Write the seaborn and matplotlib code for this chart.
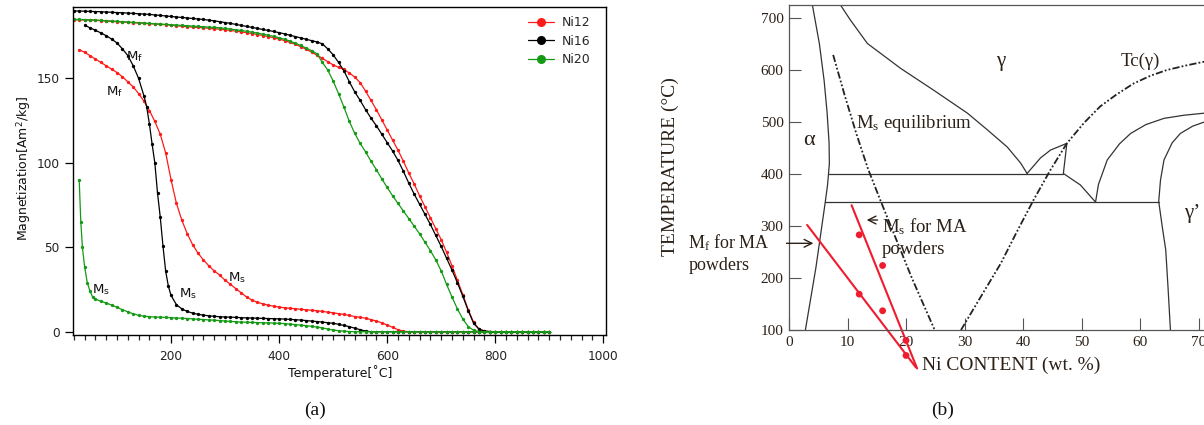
import numpy as np
import pandas as pd
import matplotlib
matplotlib.use("Agg")
import matplotlib.pyplot as plt
from matplotlib.ticker import MultipleLocator
from matplotlib.lines import Line2D
import seaborn as sns

sns.set_style("ticks")
plt.rcParams["font.family"] = ["DejaVu Sans"]
plt.rcParams["mathtext.fontset"] = "custom"
plt.rcParams["mathtext.rm"] = "Liberation Serif"
plt.rcParams["mathtext.it"] = "Liberation Serif:italic"
plt.rcParams["mathtext.sf"] = "DejaVu Sans"

# ---------------- (a) magnetization vs temperature ----------------
samples = ["Ni12", "Ni16", "Ni20"]
sample_colors = ["#ff1a1a", "#000000", "#149a14"]

# heating run, 20-900 °C
temp_heat = list(range(20, 901, 10))
ni12_heat = [184.8, 184.7, 184.6, 184.5, 184.4, 184.2, 184.0, 183.8, 183.6, 183.4,
             183.2, 183.0, 182.8, 182.6, 182.4, 182.2, 182.0, 181.8, 181.5, 181.2,
             180.9, 180.6, 180.4, 180.2, 180.0, 179.7, 179.4, 179.2, 178.8, 178.4,
             178.0, 177.6, 177.1, 176.6, 176.0, 175.4, 174.8, 174.1, 173.3, 172.4,
             171.4, 170.2, 168.8, 167.3, 165.6, 163.8, 161.9, 159.9, 158.0, 156.6,
             155.3, 153.2, 150.8, 147.5, 142.5, 137.0, 131.5, 125.5, 119.5, 113.5,
             107.5, 101.0, 94.0, 87.5, 80.5, 74.0, 67.5, 61.0, 54.5, 47.0,
             39.0, 30.5, 22.0, 13.0, 5.5, 1.5, 0.4, 0.1, 0.0, 0.0,
             0.0, 0.0, 0.0, 0.0, 0.0, 0.0, 0.0, 0.0, 0.0]
ni16_heat = [190.0, 189.9, 189.8, 189.7, 189.6, 189.5, 189.3, 189.2, 189.0, 188.9,
             188.7, 188.5, 188.3, 188.1, 187.9, 187.6, 187.3, 187.0, 186.7, 186.4,
             186.1, 185.8, 185.5, 185.2, 184.9, 184.5, 184.1, 183.6, 183.1, 182.6,
             182.0, 181.4, 180.8, 180.2, 179.6, 179.0, 178.4, 177.8, 177.1, 176.4,
             175.6, 174.8, 174.0, 173.2, 172.4, 171.6, 170.5, 167.5, 164.0, 159.5,
             154.5, 148.0, 142.0, 137.0, 131.5, 126.5, 122.0, 117.0, 112.0, 107.0,
             101.5, 95.0, 88.0, 81.5, 75.5, 69.5, 63.5, 57.0, 50.5, 43.5,
             36.5, 29.0, 21.0, 12.5, 5.0, 1.5, 0.4, 0.1, 0.0, 0.0,
             0.0, 0.0, 0.0, 0.0, 0.0, 0.0, 0.0, 0.0, 0.0]
ni20_heat = [185.0, 184.9, 184.8, 184.7, 184.6, 184.4, 184.2, 184.0, 183.8, 183.6,
             183.4, 183.2, 183.0, 182.8, 182.6, 182.4, 182.2, 182.0, 181.8, 181.6,
             181.4, 181.2, 181.0, 180.8, 180.6, 180.4, 180.2, 180.0, 179.6, 179.2,
             178.8, 178.4, 177.9, 177.4, 176.8, 176.2, 175.6, 174.9, 174.1, 173.2,
             172.1, 170.9, 169.5, 168.0, 166.5, 164.6, 159.5, 155.0, 148.5, 141.0,
             133.0, 124.5, 117.5, 111.5, 106.5, 101.0, 96.0, 90.5, 85.5, 80.5,
             76.0, 71.5, 67.0, 62.5, 58.0, 53.0, 48.0, 42.5, 36.0, 28.0,
             20.5, 13.5, 7.5, 3.0, 0.8, 0.1, 0.0, 0.0, 0.0, 0.0,
             0.0, 0.0, 0.0, 0.0, 0.0, 0.0, 0.0, 0.0, 0.0]

# cooling run back from 900 °C (listed in ascending temperature)
ni12_cool_t = list(range(30, 901, 10))
ni12_cool = [167.0, 165.5, 163.5, 161.5, 159.5, 157.5, 155.5, 153.5, 151.0, 148.0,
             145.0, 141.0, 136.5, 131.0, 124.5, 117.0, 106.0, 90.0, 76.0, 66.0,
             58.0, 51.5, 46.5, 42.5, 39.0, 36.0, 33.5, 30.5, 28.0, 25.5,
             23.0, 20.5, 18.7, 17.4, 16.5, 15.7, 15.1, 14.6, 14.2, 13.9,
             13.6, 13.3, 13.0, 12.7, 12.4, 12.0, 11.6, 11.2, 10.7, 10.2,
             9.6, 9.0, 8.5, 8.0, 7.2, 6.3, 5.3, 4.0, 2.6, 1.2,
             0.3, 0.0, 0.0, 0.0, 0.0, 0.0, 0.0, 0.0, 0.0, 0.0,
             0.0, 0.0, 0.0, 0.0, 0.0, 0.0, 0.0, 0.0, 0.0, 0.0,
             0.0, 0.0, 0.0, 0.0, 0.0, 0.0, 0.0, 0.0]
ni16_cool_t = list(range(40, 151, 10)) + list(range(155, 201, 5)) + list(range(210, 901, 10))
ni16_cool = [181.5, 180.0, 178.5, 177.0, 175.3, 173.3, 171.0, 167.5, 163.5, 157.5,
             150.0, 139.5,
             133.0, 123.0, 111.0, 100.0, 82.0, 68.0, 51.0, 36.0, 27.0, 21.5,
             16.0, 13.5, 12.0, 11.0, 10.3, 9.8, 9.4, 9.1, 8.9, 8.7,
             8.6, 8.5, 8.3, 8.2, 8.1, 8.0, 7.9, 7.8, 7.7, 7.6,
             7.5, 7.3, 7.1, 6.9, 6.6, 6.3, 6.0, 5.7, 5.3, 5.0,
             4.4, 3.7, 3.0, 2.1, 1.2, 0.4, 0.0, 0.0, 0.0, 0.0,
             0.0, 0.0, 0.0, 0.0, 0.0, 0.0, 0.0, 0.0, 0.0, 0.0,
             0.0, 0.0, 0.0, 0.0, 0.0, 0.0, 0.0, 0.0, 0.0, 0.0,
             0.0, 0.0, 0.0, 0.0, 0.0, 0.0, 0.0, 0.0, 0.0, 0.0]
ni20_cool_t = [30, 33, 36, 40, 45, 50, 55, 60] + list(range(70, 901, 10))
ni20_cool = [90.0, 65.0, 50.0, 38.5, 29.0, 24.0, 20.5, 19.3,
             18.0, 17.0, 15.8, 14.5, 13.0, 11.8, 10.6, 9.7, 9.2, 8.9,
             8.7, 8.6, 8.5, 8.3, 8.1, 8.0, 7.8, 7.6, 7.4, 7.2,
             7.0, 6.8, 6.6, 6.3, 6.1, 5.9, 5.7, 5.6, 5.5, 5.4,
             5.3, 5.2, 5.1, 5.0, 4.8, 4.5, 4.2, 3.9, 3.6, 3.2,
             2.8, 2.2, 1.6, 1.0, 0.6, 0.3, 0.1, 0.0, 0.0, 0.0,
             0.0, 0.0, 0.0, 0.0, 0.0, 0.0, 0.0, 0.0, 0.0, 0.0,
             0.0, 0.0, 0.0, 0.0, 0.0, 0.0, 0.0, 0.0, 0.0, 0.0,
             0.0, 0.0, 0.0, 0.0, 0.0, 0.0, 0.0, 0.0, 0.0, 0.0,
             0.0, 0.0, 0.0, 0.0]

# transformation labels on the curves: (subscript, temperature, magnetization)
curve_labels = [("f", 133, 163), ("f", 96, 142), ("s", 70, 25), ("s", 231, 22.5), ("s", 322, 32)]

# ---------------- (b) Fe-Ni phase diagram ----------------
alpha_ni = [4.0, 5.2, 6.0, 6.5, 6.85, 6.9, 6.6, 6.2, 4.6, 2.8]
alpha_t = [725, 650, 580, 520, 460, 420, 380, 346, 220, 100]
gamma_ni = [8.8, 10.5, 13.4, 19.1, 24.75, 30.5, 33.9, 37.3, 39.6, 40.7]
gamma_t = [725, 696, 651, 603, 561, 517, 485, 452, 421, 401]
iso400_ni = [6.85, 46.9]
iso400_t = [400, 400]
iso346_ni = [6.2, 63.2]
iso346_t = [346, 346]
arc_ni = [40.7, 43.0, 44.7, 47.5, 46.9, 49.8, 52.4]
arc_t = [401, 431, 446, 459, 401, 379, 346]
gg_ni = [52.4, 52.9, 54.4, 56.5, 58.4, 61.0, 64.1, 67.5, 71.0, 75.0]
gg_t = [346, 380, 427, 458, 478, 495, 507, 513, 517, 519]
gprime_ni = [65.2, 64.8, 64.4, 63.8, 63.2, 63.5, 64.1, 65.5, 66.9, 69.0, 71.0, 75.0]
gprime_t = [100, 180, 254, 299, 347, 388, 427, 460, 478, 492, 500, 507]
ms_eq_ni = [7.55, 9.5, 11.5, 13.5, 15.6, 18.3, 21.0, 24.9]
ms_eq_t = [629, 552, 478, 410, 350, 275, 200, 100]
tc_ni = [29.4, 33.0, 36.2, 39.0, 41.8, 44.7, 47.5, 50.4, 53.2, 56.0, 58.9, 61.8, 64.6, 68.0, 71.0, 75.0]
tc_t = [100, 168, 228, 290, 350, 408, 459, 498, 530, 553, 574, 589, 600, 609, 616, 622]

# MA powders: measured points and fitted lines
ms_pts_ni = [12, 16, 20]
ms_pts_t = [283, 224, 80]
mf_pts_ni = [12, 16, 20]
mf_pts_t = [169, 137, 51]
ms_fit_ni = [10.7, 21.9]
ms_fit_t = [340, 26]
mf_fit_ni = [3.1, 21.7]
mf_fit_t = [302, 28]

W, H = 1204, 425
fig = plt.figure(figsize=(W / 100, H / 100), dpi=100)
axa = fig.add_axes([72.7 / W, 1 - 335 / H, (606 - 72.7) / W, (335 - 7) / H])
axb = fig.add_axes([789 / W, 1 - 330 / H, 75 * 5.85 / W, 325 / H])

# ---- panel (a)
frames = []
for name, mh, tc, mc in [("Ni12", ni12_heat, ni12_cool_t, ni12_cool),
                         ("Ni16", ni16_heat, ni16_cool_t, ni16_cool),
                         ("Ni20", ni20_heat, ni20_cool_t, ni20_cool)]:
    heat = pd.DataFrame({"T": temp_heat, "M": mh})
    cool = pd.DataFrame({"T": tc, "M": mc}).iloc[::-1]
    part = pd.concat([heat, cool], ignore_index=True)
    part["sample"] = name
    frames.append(part)
mag = pd.concat(frames, ignore_index=True)

palette = dict(zip(samples, sample_colors))
sns.lineplot(data=mag, x="T", y="M", hue="sample", hue_order=samples, palette=palette,
             sort=False, estimator=None, marker="o", markersize=2.4, markeredgewidth=0,
             linewidth=0.9, legend=False, ax=axa)

axa.set_xlim(18, 1005)
axa.set_ylim(-1.95, 192.3)
axa.xaxis.set_major_locator(MultipleLocator(200))
axa.xaxis.set_minor_locator(MultipleLocator(20))
axa.yaxis.set_major_locator(MultipleLocator(50))
axa.tick_params(axis="both", which="major", direction="out", length=5.8, width=0.9,
                labelsize=8.7, color="black", labelcolor="#222222")
axa.tick_params(axis="x", which="major", pad=5)
axa.tick_params(axis="x", which="minor", direction="out", length=3.6, width=0.9)
axa.set_xlabel("")
axa.set_ylabel("")
axa.grid(False)
for sp in axa.spines.values():
    sp.set_visible(True)
    sp.set_color("black")
    sp.set_linewidth(1.0)

handles = [Line2D([0], [0], color=c, marker="o", markersize=6.5, markeredgewidth=0, linewidth=0.9)
           for c in sample_colors]
axa.legend(handles, samples, loc="upper left", bbox_to_anchor=(0.853, 0.972), frameon=False,
           fontsize=9, handlelength=2.1, handletextpad=0.6, labelspacing=0.45,
           borderpad=0, borderaxespad=0)

for sub, t, m in curve_labels:
    axa.text(t, m, "M$_\\mathsf{" + sub + "}$", ha="center", va="center", fontsize=9.5, color="#111111")

fig.text(24 / W, 1 - 168 / H, r"Magnetization[Am$^\mathsf{2}$/kg]", rotation=90,
         ha="center", va="center", fontsize=9, color="#111111")
fig.text(340 / W, 1 - 373 / H, "Temperature[˚C]", ha="center", va="center",
         fontsize=9, color="#111111")

# ---- panel (b)
line_c = "#333333"
text_c = "#2b2118"
serif = "Liberation Serif"
for xs, ys in [(alpha_ni, alpha_t), (gamma_ni, gamma_t), (iso400_ni, iso400_t),
               (iso346_ni, iso346_t), (arc_ni, arc_t), (gg_ni, gg_t), (gprime_ni, gprime_t)]:
    sns.lineplot(x=xs, y=ys, sort=False, estimator=None, color=line_c, linewidth=0.9, ax=axb)
for xs, ys in [(ms_eq_ni, ms_eq_t), (tc_ni, tc_t)]:
    sns.lineplot(x=xs, y=ys, sort=False, estimator=None, color="#222222", linewidth=1.3,
                 linestyle=(0, (4, 1.2, 1, 1.2, 1, 1.2)), ax=axb)

red = "#ee1c2e"
for xs, ys in [(ms_fit_ni, ms_fit_t), (mf_fit_ni, mf_fit_t)]:
    sns.lineplot(x=xs, y=ys, sort=False, estimator=None, color=red, linewidth=1.5,
                 clip_on=False, ax=axb)
sns.scatterplot(x=ms_pts_ni + mf_pts_ni, y=ms_pts_t + mf_pts_t, color=red, s=24,
                edgecolor="none", clip_on=False, zorder=5, ax=axb)

axb.set_xlim(0, 75)
axb.set_ylim(100, 725)
axb.set_xticks(range(0, 71, 10))
axb.set_yticks(range(100, 701, 100))
axb.tick_params(axis="both", direction="in", length=8.6, width=0.8, color="#555555",
                labelsize=11, labelcolor=text_c, pad=4)
for lbl in axb.get_xticklabels() + axb.get_yticklabels():
    lbl.set_fontfamily(serif)
axb.set_xlabel("")
axb.set_ylabel("")
axb.grid(False)
axb.spines["right"].set_visible(False)
for side in ["left", "bottom", "top"]:
    axb.spines[side].set_visible(True)
    axb.spines[side].set_color("#555555")
    axb.spines[side].set_linewidth(0.9)

tk = dict(fontfamily=serif, color=text_c)
axb.text(3.4, 465, "α", fontsize=16, ha="center", va="center", **tk)
axb.text(36.15, 616, "γ", fontsize=15, ha="center", va="center", **tk)
axb.text(56.7, 617, "Tc(γ)", fontsize=13.5, ha="left", va="center", **tk)
axb.text(67.5, 325, "γ’", fontsize=15, ha="left", va="center", **tk)
axb.text(11.5, 498, r"M$_\mathrm{s}$ equilibrium", fontsize=13.5, ha="left", va="center", **tk)
axb.text(15.9, 299, r"M$_\mathrm{s}$ for MA", fontsize=13.5, ha="left", va="center", **tk)
axb.text(15.9, 254, "powders", fontsize=13.5, ha="left", va="center", **tk)
axb.text(-17.2, 268, r"M$_\mathrm{f}$ for MA", fontsize=13, ha="left", va="center", **tk)
axb.text(-17.2, 225, "powders", fontsize=13, ha="left", va="center", **tk)
axb.annotate("", xy=(12.8, 311.5), xytext=(15.6, 311.5), annotation_clip=False,
             arrowprops=dict(arrowstyle="->", color=text_c, lw=1.0, mutation_scale=14))
axb.annotate("", xy=(4.65, 266.7), xytext=(-0.9, 266.7), annotation_clip=False,
             arrowprops=dict(arrowstyle="->", color=text_c, lw=1.0, mutation_scale=14))

fig.text(670 / W, 1 - 167 / H, "TEMPERATURE (°C)", rotation=90, ha="center", va="center",
         fontsize=14, **tk)
fig.text(922 / W, 1 - 365 / H, "Ni CONTENT (wt. %)", ha="left", va="center", fontsize=14, **tk)

fig.text(315 / W, 1 - 410 / H, "(a)", ha="center", va="center", fontsize=14, fontfamily=serif, color="#111111")
fig.text(943 / W, 1 - 410 / H, "(b)", ha="center", va="center", fontsize=14, fontfamily=serif, color="#111111")

fig.savefig("out.png", dpi=100)
